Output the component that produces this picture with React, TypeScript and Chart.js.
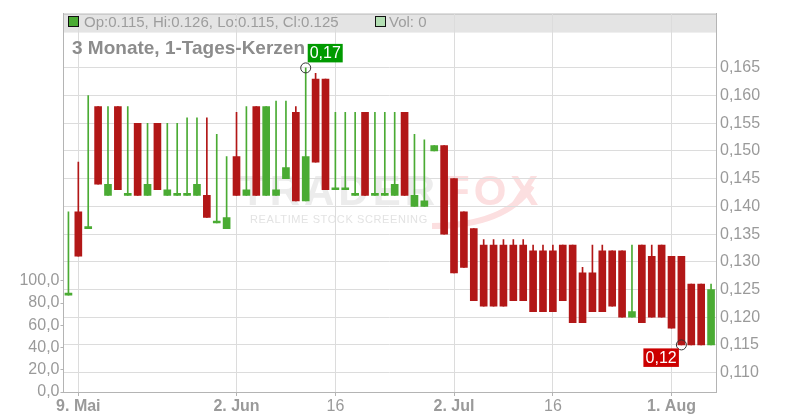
import React, { useEffect, useRef } from 'react';
import { Chart, registerables } from 'chart.js';

Chart.register(...registerables);

// ---- data ----
const dates = [
  '2025-05-08', '2025-05-09', '2025-05-12', '2025-05-13', '2025-05-14', '2025-05-15', '2025-05-16',
  '2025-05-19', '2025-05-20', '2025-05-21', '2025-05-22', '2025-05-23', '2025-05-26', '2025-05-27',
  '2025-05-28', '2025-05-29', '2025-05-30', '2025-06-02', '2025-06-03', '2025-06-04', '2025-06-05',
  '2025-06-06', '2025-06-09', '2025-06-10', '2025-06-11', '2025-06-12', '2025-06-13', '2025-06-16',
  '2025-06-17', '2025-06-18', '2025-06-19', '2025-06-20', '2025-06-23', '2025-06-24', '2025-06-25',
  '2025-06-26', '2025-06-27', '2025-06-30', '2025-07-01', '2025-07-02', '2025-07-03', '2025-07-04',
  '2025-07-07', '2025-07-08', '2025-07-09', '2025-07-10', '2025-07-11', '2025-07-14', '2025-07-15',
  '2025-07-16', '2025-07-17', '2025-07-18', '2025-07-21', '2025-07-22', '2025-07-23', '2025-07-24',
  '2025-07-25', '2025-07-28', '2025-07-29', '2025-07-30', '2025-07-31', '2025-08-01', '2025-08-04',
  '2025-08-05', '2025-08-06', '2025-08-07',
];

const opens = [
  0.124, 0.139, 0.136, 0.158, 0.142, 0.158, 0.142, 0.155, 0.142, 0.155, 0.142, 0.142, 0.142, 0.142,
  0.142, 0.137, 0.136, 0.149, 0.142, 0.158, 0.142, 0.142, 0.145, 0.157, 0.141, 0.163, 0.163, 0.143,
  0.143, 0.142, 0.157, 0.142, 0.142, 0.142, 0.157, 0.140, 0.140, 0.150, 0.151, 0.145, 0.139, 0.136,
  0.133, 0.133, 0.133, 0.133, 0.133, 0.132, 0.132, 0.132, 0.133, 0.133, 0.128, 0.128, 0.132, 0.132,
  0.132, 0.120, 0.133, 0.131, 0.133, 0.131, 0.131, 0.126, 0.126, 0.115,
];

const highs = [
  0.139, 0.148, 0.160, 0.158, 0.158, 0.158, 0.158, 0.155, 0.155, 0.155, 0.155, 0.155, 0.156, 0.156,
  0.156, 0.153, 0.149, 0.157, 0.158, 0.158, 0.158, 0.159, 0.159, 0.158, 0.165, 0.164, 0.163, 0.157,
  0.157, 0.157, 0.157, 0.157, 0.157, 0.157, 0.157, 0.153, 0.152, 0.151, 0.151, 0.145, 0.139, 0.136,
  0.134, 0.134, 0.134, 0.134, 0.134, 0.133, 0.133, 0.133, 0.133, 0.133, 0.129, 0.133, 0.133, 0.132,
  0.132, 0.133, 0.133, 0.133, 0.133, 0.131, 0.131, 0.126, 0.126, 0.126,
];

const lows = [
  0.124, 0.131, 0.136, 0.144, 0.142, 0.143, 0.142, 0.142, 0.142, 0.143, 0.142, 0.142, 0.142, 0.142,
  0.138, 0.137, 0.136, 0.142, 0.142, 0.142, 0.142, 0.142, 0.145, 0.141, 0.141, 0.148, 0.143, 0.143,
  0.143, 0.142, 0.142, 0.142, 0.142, 0.142, 0.142, 0.140, 0.140, 0.150, 0.135, 0.128, 0.129, 0.123,
  0.122, 0.122, 0.122, 0.123, 0.123, 0.121, 0.121, 0.121, 0.123, 0.119, 0.119, 0.121, 0.121, 0.122,
  0.120, 0.120, 0.119, 0.120, 0.120, 0.118, 0.115, 0.115, 0.115, 0.115,
];

const closes = [
  0.124, 0.131, 0.136, 0.144, 0.144, 0.143, 0.142, 0.142, 0.144, 0.143, 0.143, 0.142, 0.142, 0.144,
  0.138, 0.137, 0.138, 0.142, 0.143, 0.142, 0.158, 0.143, 0.147, 0.141, 0.149, 0.148, 0.143, 0.143,
  0.143, 0.142, 0.142, 0.142, 0.142, 0.144, 0.142, 0.142, 0.141, 0.151, 0.135, 0.128, 0.129, 0.123,
  0.122, 0.122, 0.122, 0.123, 0.123, 0.121, 0.121, 0.121, 0.123, 0.119, 0.119, 0.121, 0.121, 0.122,
  0.120, 0.121, 0.119, 0.120, 0.120, 0.118, 0.115, 0.115, 0.115, 0.125,
];

const lastVolume = 0;

const xTickLabels: Record<string, string> = {
  '2025-05-09': '9. Mai',
  '2025-06-02': '2. Jun',
  '2025-06-16': '16',
  '2025-07-02': '2. Jul',
  '2025-07-16': '16',
  '2025-08-01': '1. Aug',
};

const priceTicks = [0.11, 0.115, 0.12, 0.125, 0.13, 0.135, 0.14, 0.145, 0.15, 0.155, 0.16, 0.165];
const volumeTicks = [0, 20, 40, 60, 80, 100];

const titleText = '3 Monate, 1-Tages-Kerzen';

// ---- styles ----
const FONT = '"Liberation Sans", Arial, Helvetica, sans-serif';
const GREEN = '#4aab33';
const RED = '#b21717';
const GRID = '#dcdcdc';
const AXIS = '#b4b4b4';
const TICK_TEXT = '#9a9a9a';

const candleColors = opens.map((o, i) => (closes[i] >= o ? GREEN : RED));

function fmtLabel(v: number) {
  return (Math.round(v * 100) / 100).toFixed(2).replace('.', ',');
}

const decorPlugin = {
  id: 'decor',
  beforeDraw(chart: any) {
    const { ctx, chartArea: a } = chart;
    ctx.save();
    // legend band
    ctx.fillStyle = '#e4e4e4';
    ctx.fillRect(a.left, a.top, a.right - a.left, 19);
    ctx.strokeStyle = '#bdbdbd';
    ctx.lineWidth = 1;
    ctx.beginPath();
    ctx.moveTo(a.left, a.top + 0.5);
    ctx.lineTo(a.right, a.top + 0.5);
    ctx.stroke();

    // watermark
    ctx.textBaseline = 'alphabetic';
    ctx.textAlign = 'left';
    ctx.font = `bold 42px ${FONT}`;
    try { (ctx as any).letterSpacing = '4px'; } catch (e) {}
    ctx.fillStyle = '#ececec';
    ctx.fillText('TRADER', 240, 205);
    ctx.fillStyle = '#fcdfe0';
    ctx.fillText('FOX', 444, 205);
    try { (ctx as any).letterSpacing = '0px'; } catch (e) {}
    ctx.strokeStyle = '#fcdfe0';
    ctx.lineWidth = 6;
    ctx.beginPath();
    ctx.moveTo(432, 226);
    ctx.quadraticCurveTo(505, 226, 532, 186);
    ctx.stroke();
    ctx.font = `11px ${FONT}`;
    try { (ctx as any).letterSpacing = '0.6px'; } catch (e) {}
    ctx.fillStyle = '#e3e3e3';
    ctx.fillText('REALTIME STOCK SCREENING', 250, 223);
    try { (ctx as any).letterSpacing = '0px'; } catch (e) {}
    ctx.restore();
  },
  afterDraw(chart: any) {
    const { ctx, chartArea: a } = chart;
    const xs = chart.scales.x;
    const ys = chart.scales.y;
    ctx.save();
    // legend row
    const n = opens.length - 1;
    ctx.fillStyle = GREEN;
    ctx.fillRect(68.5, 16.5, 10, 10);
    ctx.strokeStyle = '#111';
    ctx.lineWidth = 1;
    ctx.strokeRect(68.5, 16.5, 10, 10);
    ctx.fillStyle = '#b3dfb3';
    ctx.fillRect(375.5, 16.5, 10, 10);
    ctx.strokeRect(375.5, 16.5, 10, 10);
    ctx.font = `15px ${FONT}`;
    ctx.fillStyle = '#9d9d9d';
    ctx.textBaseline = 'alphabetic';
    ctx.textAlign = 'left';
    ctx.fillText(
      `Op:${opens[n].toFixed(3)}, Hi:${highs[n].toFixed(3)}, Lo:${lows[n].toFixed(3)}, Cl:${closes[n].toFixed(3)}`,
      84, 27);
    ctx.fillText(`Vol: ${lastVolume}`, 389, 27);

    // title
    ctx.font = `bold 19px ${FONT}`;
    ctx.fillStyle = '#8c8c8c';
    ctx.fillText(titleText, 72, 54);

    // high / low markers
    const hi = Math.max(...highs);
    const lo = Math.min(...lows);
    const hiIdx = highs.indexOf(hi);
    const loIdx = lows.indexOf(lo);
    const hx = xs.getPixelForValue(hiIdx);
    const hy = ys.getPixelForValue(hi);
    const lx = xs.getPixelForValue(loIdx);
    const ly = ys.getPixelForValue(lo);

    ctx.strokeStyle = '#333';
    ctx.lineWidth = 1;
    ctx.beginPath();
    ctx.arc(hx, hy, 5, 0, Math.PI * 2);
    ctx.stroke();
    ctx.beginPath();
    ctx.arc(lx, ly, 5, 0, Math.PI * 2);
    ctx.stroke();

    ctx.font = `16px ${FONT}`;
    ctx.textAlign = 'center';
    ctx.textBaseline = 'middle';
    // high box
    ctx.fillStyle = '#009a00';
    ctx.fillRect(hx + 2, hy - 24, 35, 18.5);
    ctx.fillStyle = '#ffffff';
    ctx.fillText(fmtLabel(hi), hx + 2 + 17.5, hy - 24 + 9.8);
    // low box
    ctx.fillStyle = '#cc0000';
    ctx.fillRect(lx - 38, ly + 3.5, 35.5, 18.5);
    ctx.fillStyle = '#ffffff';
    ctx.fillText(fmtLabel(lo), lx - 38 + 17.75, ly + 3.5 + 9.8);
    ctx.restore();
  },
};

export default function App() {
  const canvasRef = useRef<HTMLCanvasElement | null>(null);

  useEffect(() => {
    document.body.style.margin = '0';
    const canvas = canvasRef.current;
    if (!canvas) return;

    const isLabeled = (i: number) => !!xTickLabels[dates[i]];

    const chart = new Chart(canvas, {
      type: 'bar',
      data: {
        labels: dates,
        datasets: [
          {
            label: 'body',
            data: opens.map((o, i) => [o, closes[i]]) as any,
            backgroundColor: candleColors,
            barThickness: 7,
            minBarLength: 2,
            grouped: false,
            borderWidth: 0,
            borderSkipped: false,
            yAxisID: 'y',
            order: 1,
          } as any,
          {
            label: 'wick',
            data: lows.map((l, i) => [l, highs[i]]) as any,
            backgroundColor: candleColors,
            barThickness: 1,
            grouped: false,
            borderWidth: 0,
            borderSkipped: false,
            yAxisID: 'y',
            order: 2,
          } as any,
        ],
      },
      options: {
        animation: false,
        responsive: false,
        devicePixelRatio: 1,
        layout: { padding: { top: 11, left: 0, right: 0, bottom: 0 } },
        plugins: {
          legend: { display: false },
          tooltip: { enabled: false },
          title: { display: false },
        },
        scales: {
          x: {
            type: 'category',
            offset: true,
            afterFit: (s: any) => { s.height = 28; },
            grid: {
              offset: false,
              color: (c: any) => (isLabeled(c.index) ? GRID : 'rgba(0,0,0,0)'),
              tickColor: (c: any) => (isLabeled(c.index) ? AXIS : 'rgba(0,0,0,0)'),
              drawTicks: true,
              tickLength: 4,
            },
            border: { display: true, color: AXIS },
            ticks: {
              autoSkip: false,
              maxRotation: 0,
              minRotation: 0,
              padding: 1,
              color: TICK_TEXT,
              font: (c: any) => {
                const lbl = xTickLabels[dates[c.index]] || '';
                return { family: FONT, size: 16, weight: /[A-Za-z]/.test(lbl) ? 'bold' : 'normal' };
              },
              callback: (_v: any, i: number) => xTickLabels[dates[i]] || '',
            },
          },
          y: {
            type: 'linear',
            position: 'right',
            min: 0.1065,
            max: 0.1748,
            afterFit: (s: any) => { s.width = 84; },
            afterBuildTicks: (s: any) => { s.ticks = priceTicks.map((v) => ({ value: v })); },
            grid: { color: GRID, drawTicks: false },
            border: { display: true, color: AXIS },
            ticks: {
              padding: 4,
              color: TICK_TEXT,
              font: { family: FONT, size: 16 },
              callback: (v: any) => Number(v).toFixed(3).replace('.', ','),
            },
          },
          yl: {
            type: 'linear',
            position: 'left',
            min: 0,
            max: 340.3,
            afterFit: (s: any) => { s.width = 63.5; },
            afterBuildTicks: (s: any) => { s.ticks = volumeTicks.map((v) => ({ value: v })); },
            grid: { drawOnChartArea: false, drawTicks: true, tickLength: 3, tickColor: AXIS },
            border: { display: true, color: AXIS },
            ticks: {
              padding: 1,
              color: TICK_TEXT,
              font: { family: FONT, size: 16 },
              callback: (v: any) => Number(v).toFixed(1).replace('.', ','),
            },
          },
        },
      } as any,
      plugins: [decorPlugin],
    });

    return () => chart.destroy();
  }, []);

  return (
    <div style={{ position: 'fixed', left: 0, top: 0, width: 800, height: 420, background: '#fff' }}>
      <canvas ref={canvasRef} width={800} height={420} style={{ display: 'block' }} />
    </div>
  );
}
